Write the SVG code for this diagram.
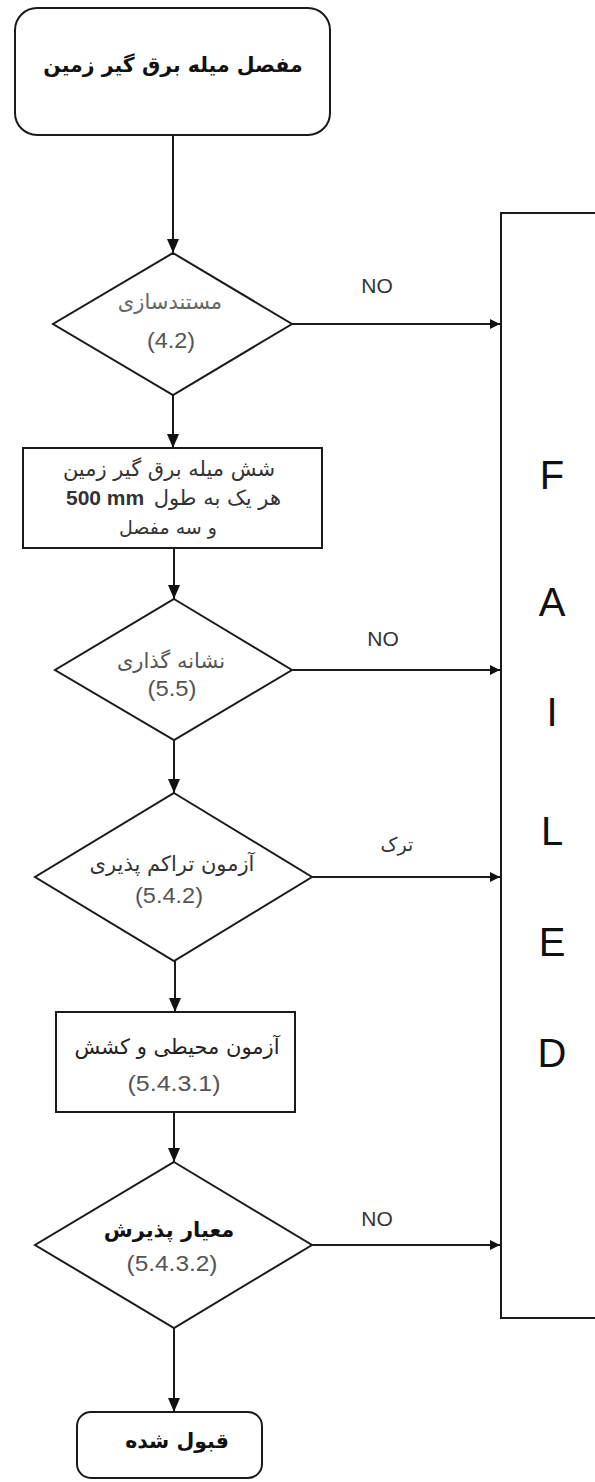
<svg xmlns="http://www.w3.org/2000/svg" width="595" height="1482" viewBox="0 0 595 1482">
<defs>
<marker id="arr" viewBox="0 0 10 10" refX="10" refY="5" markerWidth="10" markerHeight="10" markerUnits="userSpaceOnUse" orient="auto">
<path d="M0,0 L10,5 L0,10 z" fill="#111"/>
</marker>
<marker id="arrv" viewBox="0 0 14 12" refX="14" refY="6" markerWidth="14" markerHeight="12" markerUnits="userSpaceOnUse" orient="auto">
<path d="M0,0 L14,6 L0,12 z" fill="#111"/>
</marker>
</defs>
<style>
.shape{fill:#fff;stroke:#1a1a1a;stroke-width:2}
.fa{font-family:"DejaVu Sans",sans-serif;text-anchor:middle;direction:rtl;unicode-bidi:embed}
.num{font-family:"Liberation Sans","DejaVu Sans",sans-serif;text-anchor:middle;fill:#555;font-size:22px}
.lbl{font-family:"Liberation Sans",sans-serif;font-size:21px;text-anchor:middle;fill:#333}
.big{font-family:"Liberation Sans",sans-serif;font-size:40px;text-anchor:middle;fill:#111}
.conn{stroke:#1a1a1a;stroke-width:2;fill:none}
</style>
<rect width="595" height="1482" fill="#fff"/>

<g id="start">
<rect class="shape" x="15" y="8" width="315" height="127" rx="22"/>
<text class="fa" x="173" y="72" font-size="20.5" font-weight="bold" fill="#111">مفصل میله برق گیر زمین</text>
</g>

<g id="d1">
<polygon class="shape" points="173,253 292,324 173,395 53,324"/>
<text class="fa" x="170" y="309" font-size="21" fill="#666">مستندسازی</text>
<text class="num" x="171" y="348" textLength="48" lengthAdjust="spacingAndGlyphs">(4.2)</text>
</g>

<g id="r1">
<rect class="shape" x="23" y="448" width="299" height="100"/>
<text class="fa" x="169" y="476" font-size="21" fill="#333">شش میله برق گیر زمین</text>
<text x="281" y="505" font-size="21" fill="#333" font-family="DejaVu Sans, sans-serif" text-anchor="end">هر یک به طول</text>
<text x="66" y="505" font-size="21" fill="#333" font-family="Liberation Sans, sans-serif" font-weight="bold">500 mm</text>
<text class="fa" x="168" y="534" font-size="19" fill="#333">و سه مفصل</text>
</g>

<g id="d2">
<polygon class="shape" points="174,599 292,670 174,740 55,670"/>
<text class="fa" x="171" y="668" font-size="21" fill="#555">نشانه گذاری</text>
<text class="num" x="172" y="696" textLength="49" lengthAdjust="spacingAndGlyphs">(5.5)</text>
</g>

<g id="d3">
<polygon class="shape" points="174,793 312,877 174,961 35,877"/>
<text class="fa" x="172" y="871" font-size="21" fill="#333">آزمون تراکم پذیری</text>
<text class="num" x="169" y="903" textLength="68" lengthAdjust="spacingAndGlyphs">(5.4.2)</text>
</g>

<g id="r2">
<rect class="shape" x="56" y="1012" width="239" height="100"/>
<text class="fa" x="177" y="1054" font-size="21" fill="#222">آزمون محیطی و کشش</text>
<text class="num" x="174" y="1091" textLength="93" lengthAdjust="spacingAndGlyphs">(5.4.3.1)</text>
</g>

<g id="d4">
<polygon class="shape" points="174,1162 312,1245 174,1328 35,1245"/>
<text class="fa" x="169" y="1237" font-size="21" font-weight="bold" fill="#111">معیار پذیرش</text>
<text class="num" x="172" y="1271" textLength="91" lengthAdjust="spacingAndGlyphs">(5.4.3.2)</text>
</g>

<g id="accepted">
<rect class="shape" x="77" y="1412" width="185" height="66" rx="14"/>
<text class="fa" x="177" y="1448" font-size="20.5" font-weight="bold" fill="#111">قبول شده</text>
</g>

<g id="failed">
<rect class="shape" x="501" y="213" width="110" height="1105"/>
<text class="big" x="552" y="489">F</text>
<text class="big" x="552" y="616">A</text>
<text class="big" x="552" y="726">I</text>
<text class="big" x="552" y="845">L</text>
<text class="big" x="552" y="956">E</text>
<text class="big" x="552" y="1067">D</text>
</g>

<g id="connectors">
<line class="conn" x1="173" y1="135" x2="173" y2="253" marker-end="url(#arrv)"/>
<line class="conn" x1="173" y1="395" x2="173" y2="448" marker-end="url(#arrv)"/>
<line class="conn" x1="174" y1="548" x2="174" y2="599" marker-end="url(#arrv)"/>
<line class="conn" x1="174" y1="740" x2="174" y2="793" marker-end="url(#arrv)"/>
<line class="conn" x1="175" y1="961" x2="175" y2="1012" marker-end="url(#arrv)"/>
<line class="conn" x1="174" y1="1112" x2="174" y2="1162" marker-end="url(#arrv)"/>
<line class="conn" x1="174" y1="1328" x2="174" y2="1412" marker-end="url(#arrv)"/>
<line class="conn" x1="292" y1="324" x2="500" y2="324" marker-end="url(#arr)"/>
<line class="conn" x1="292" y1="670" x2="500" y2="670" marker-end="url(#arr)"/>
<line class="conn" x1="312" y1="877" x2="500" y2="877" marker-end="url(#arr)"/>
<line class="conn" x1="312" y1="1245" x2="500" y2="1245" marker-end="url(#arr)"/>
<text class="lbl" x="377" y="293">NO</text>
<text class="lbl" x="383" y="646">NO</text>
<text class="fa" x="397" y="851" font-size="19" fill="#333">ترک</text>
<text class="lbl" x="377" y="1226">NO</text>
</g>
</svg>
